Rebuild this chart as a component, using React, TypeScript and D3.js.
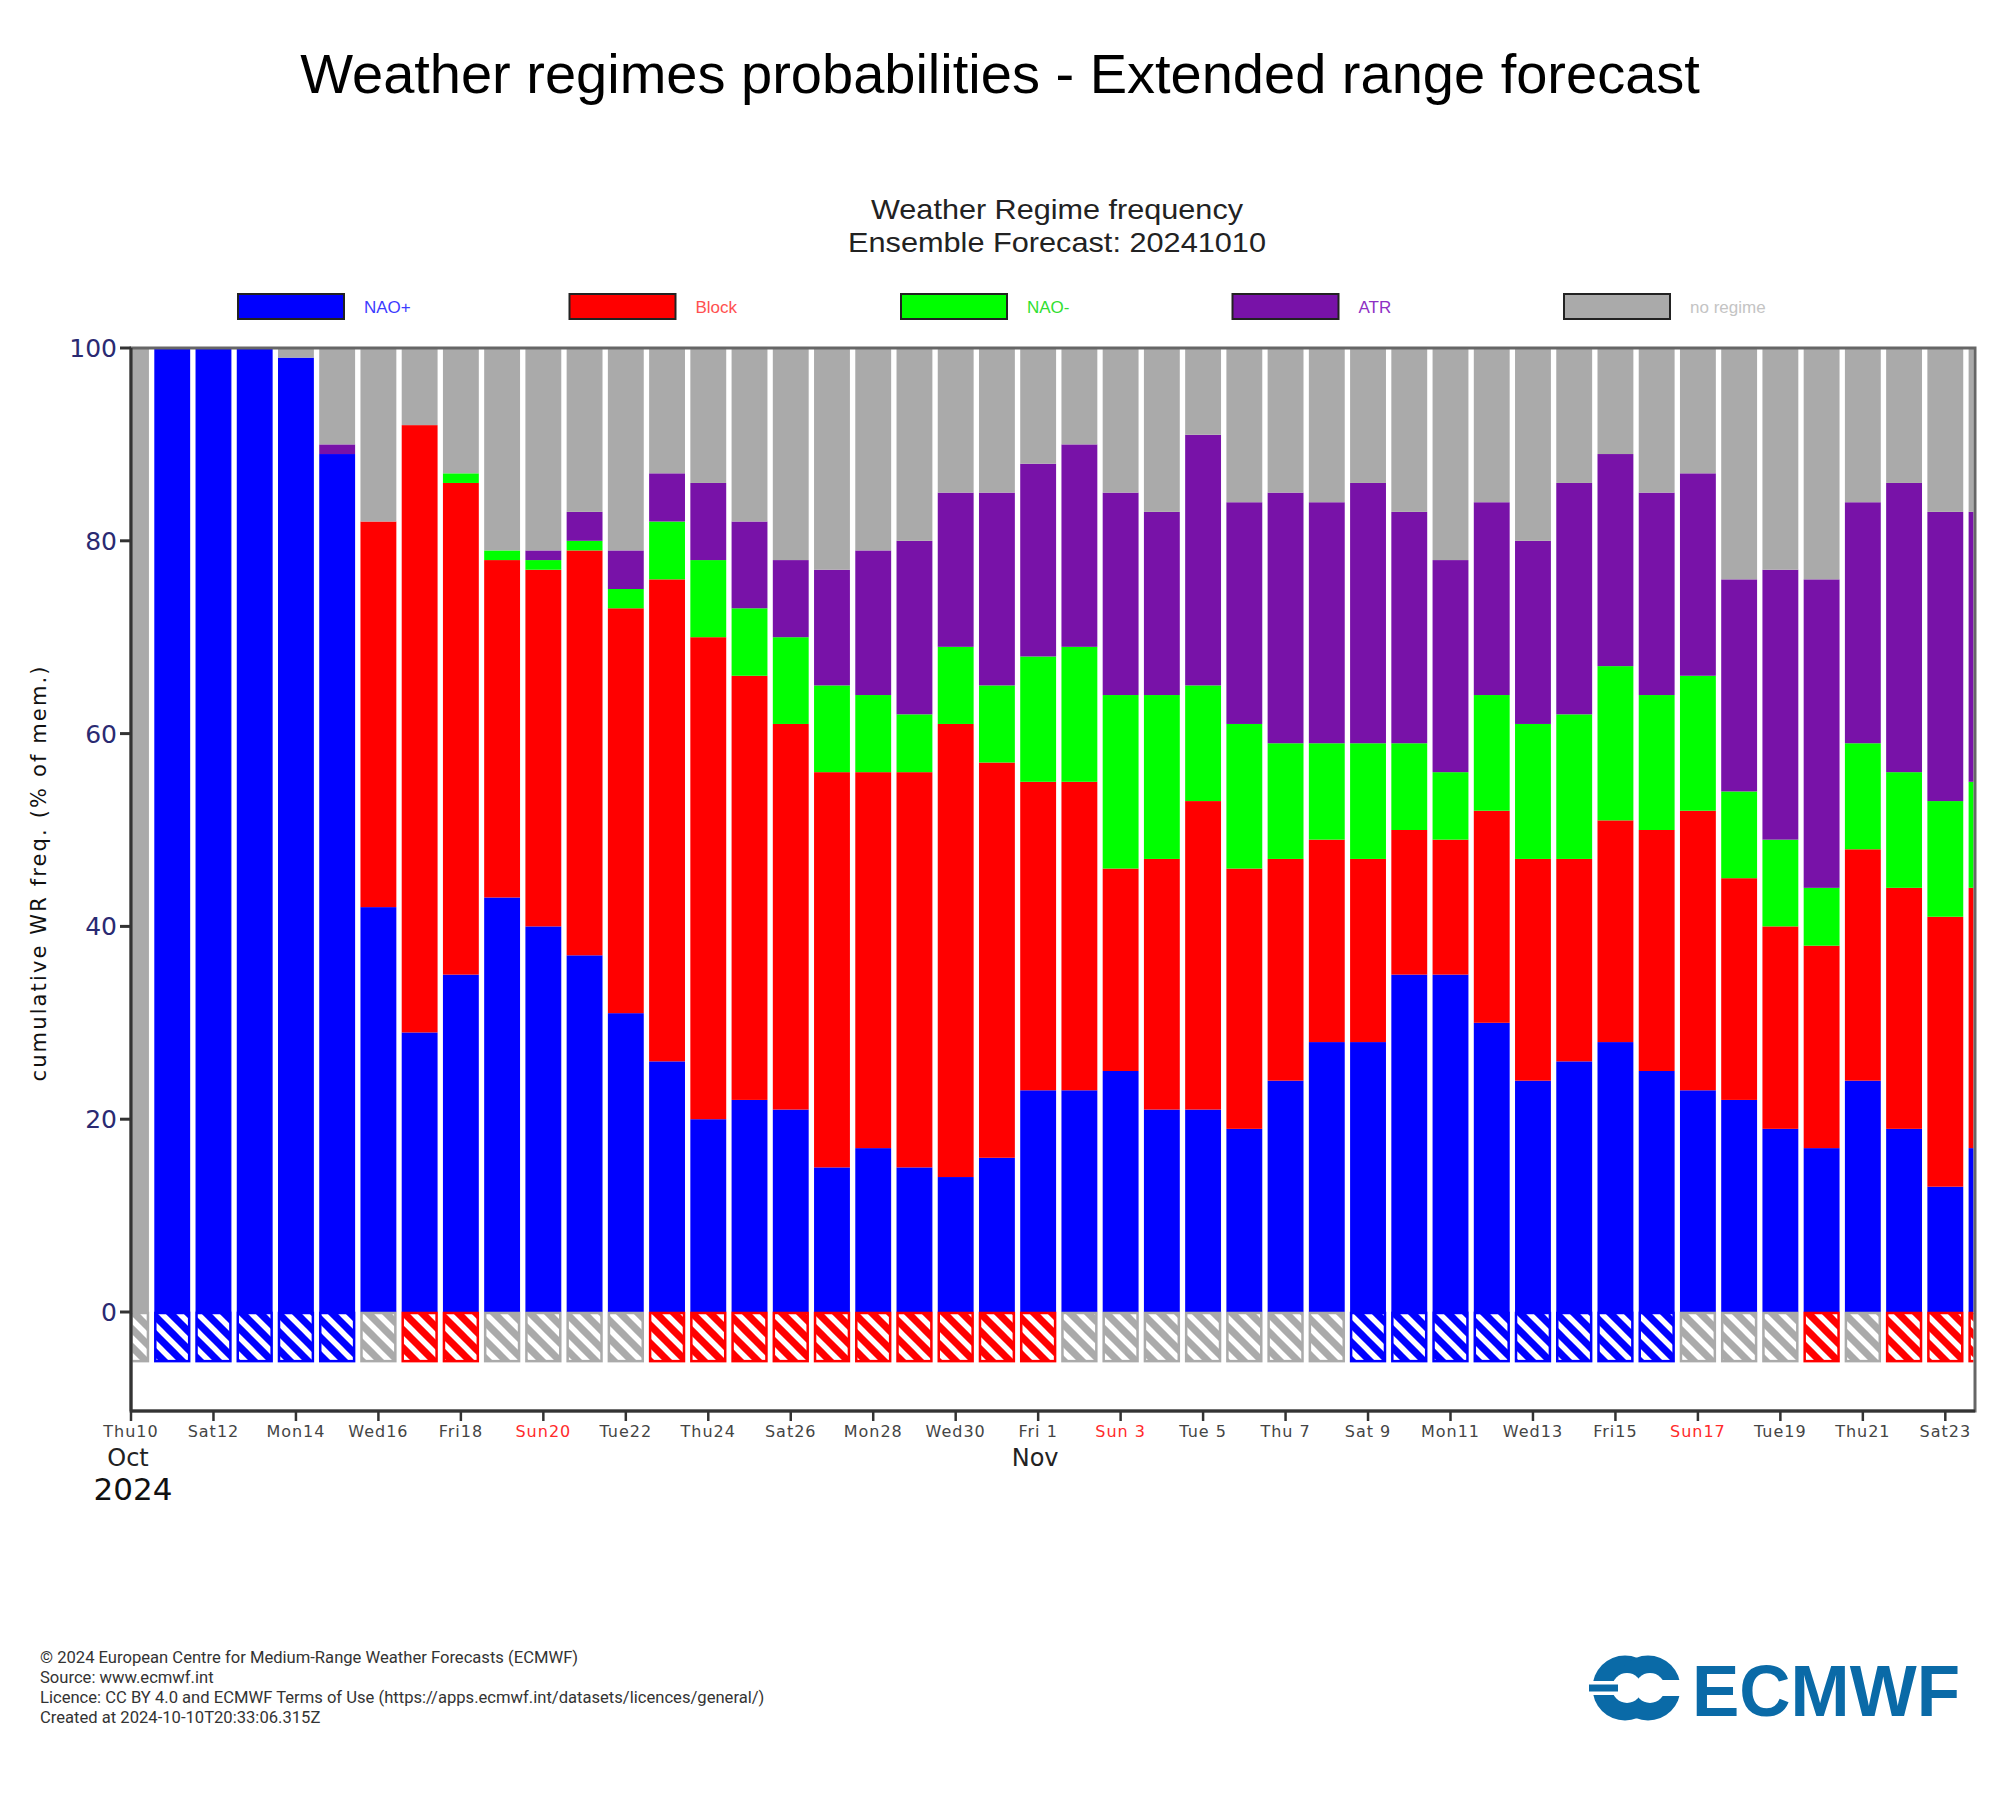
import React from "react";
import * as d3 from "d3";

const regimeKeys = ["naoPlus", "block", "naoMinus", "atr", "noRegime"];
const regimeNames = ["NAO+", "Block", "NAO-", "ATR", "no regime"];
const regimeColors = ["#0000ff", "#ff0000", "#00ff00", "#7812a8", "#aaaaaa"];
const legendTextColors = ["#3c3cff", "#ff5050", "#30e030", "#8e2fc4", "#c4c4c4"];

const naoPlus = [0,100,100,100,99,89,42,29,35,43,40,37,31,26,20,22,21,15,17,15,14,16,23,23,25,21,21,19,24,28,28,35,35,30,24,26,28,25,23,22,19,17,24,19,13,17];
const block = [0,0,0,0,0,0,40,63,51,35,37,42,42,50,50,44,40,41,39,41,47,41,32,32,21,26,32,27,23,21,19,15,14,22,23,21,23,25,29,23,21,21,24,25,28,27];
const naoMinus = [0,0,0,0,0,0,0,0,1,1,1,1,2,6,8,7,9,9,8,6,8,8,13,14,18,17,12,15,12,10,12,9,7,12,14,15,16,14,14,9,9,6,11,12,12,11];
const atr = [0,0,0,0,0,1,0,0,0,0,1,3,4,5,8,9,8,12,15,18,16,20,20,21,21,19,26,23,26,25,27,24,22,20,19,24,22,21,21,22,28,32,25,30,30,28];
const noRegime = [100,0,0,0,1,10,18,8,13,21,21,17,21,13,14,18,22,23,21,20,15,15,12,10,15,17,9,16,15,16,14,17,22,16,20,14,11,15,13,24,23,24,16,14,17,17];

// dominant regime flag shown in the hatched strip under each bar
const hatch = [
  "noRegime","naoPlus","naoPlus","naoPlus","naoPlus","naoPlus","noRegime","block","block",
  "noRegime","noRegime","noRegime","noRegime",
  "block","block","block","block","block","block","block","block","block","block",
  "noRegime","noRegime","noRegime","noRegime","noRegime","noRegime","noRegime",
  "naoPlus","naoPlus","naoPlus","naoPlus","naoPlus","naoPlus","naoPlus","naoPlus",
  "noRegime","noRegime","noRegime","block","noRegime","block","block","block"
];

const xTickLabels = ["Thu10","Sat12","Mon14","Wed16","Fri18","Sun20","Tue22","Thu24","Sat26","Mon28","Wed30","Fri 1","Sun 3","Tue 5","Thu 7","Sat 9","Mon11","Wed13","Fri15","Sun17","Tue19","Thu21","Sat23"];
const yTicks = [0, 20, 40, 60, 80, 100];
const monthLabels = [{ label: "Oct", day: 0 }, { label: "Nov", day: 22 }];

const footerLines = [
  "© 2024 European Centre for Medium-Range Weather Forecasts (ECMWF)",
  "Source: www.ecmwf.int",
  "Licence: CC BY 4.0 and ECMWF Terms of Use (https://apps.ecmwf.int/datasets/licences/general/)",
  "Created at 2024-10-10T20:33:06.315Z",
];

const W = 2000, H = 1800;
const plotL = 131, plotR = 1975, plotT = 348, plotB = 1411, zeroY = 1312;

export default function App() {
  const data = naoPlus.map((_, i) => ({
    i,
    naoPlus: naoPlus[i], block: block[i], naoMinus: naoMinus[i], atr: atr[i], noRegime: noRegime[i],
  }));
  const x = d3.scaleLinear().domain([0, 44.72]).range([plotL, plotR]);
  const y = d3.scaleLinear().domain([0, 100]).range([zeroY, plotT]);
  const step = x(1) - x(0);
  const bw = step * 0.87;
  const stack = d3.stack<any>().keys(regimeKeys)(data);
  const colorOf = (k: string) => regimeColors[regimeKeys.indexOf(k)];
  const hatchTop = y(0), hatchBot = y(-5.2);

  return (
    <svg width={W} height={H} style={{ position: "absolute", left: 0, top: 0, background: "#fff" }}
      fontFamily="'Liberation Sans', Arial, sans-serif">
      <defs>
        <clipPath id="plotclip">
          <rect x={plotL + 1.5} y={plotT} width={plotR - plotL - 3} height={plotB - plotT} />
        </clipPath>
        {regimeKeys.map((k) => (
          <pattern key={k} id={`hatch-${k}`} patternUnits="userSpaceOnUse" width={18} height={18}>
            <rect width={18} height={18} fill={colorOf(k)} />
            <path d="M-4.5,-4.5 L22.5,22.5 M-4.5,13.5 L4.5,22.5 M13.5,-4.5 L22.5,4.5" stroke="#fff" strokeWidth={5.5} />
          </pattern>
        ))}
      </defs>
      <rect width={W} height={H} fill="#fff" />

      {/* Titles */}
      <text x={1000} y={93} textAnchor="middle" fontSize={56} fill="#000">
        Weather regimes probabilities - Extended range forecast
      </text>
      <text x={1057} y={219} textAnchor="middle" fontSize={28} fill="#222" textLength={372} lengthAdjust="spacingAndGlyphs">
        Weather Regime frequency
      </text>
      <text x={1057} y={252} textAnchor="middle" fontSize={28} fill="#222" textLength={418} lengthAdjust="spacingAndGlyphs">
        Ensemble Forecast: 20241010
      </text>

      {/* Legend */}
      {regimeNames.map((n, k) => {
        const lx = 238 + k * 331.5;
        return (
          <g key={n}>
            <rect x={lx} y={294} width={106} height={25} fill={regimeColors[k]} stroke="#222" strokeWidth={2} />
            <text x={lx + 126} y={313} fontSize={17} fill={legendTextColors[k]}>{n}</text>
          </g>
        );
      })}

      {/* Bars */}
      <g clipPath="url(#plotclip)">
        {stack.map((s) => (
          <g key={s.key} fill={colorOf(s.key)}>
            {s.map((d, i) =>
              d[1] - d[0] > 0 ? (
                <rect key={i} x={x(i) - bw / 2} y={y(d[1])} width={bw} height={y(d[0]) - y(d[1])} />
              ) : null
            )}
          </g>
        ))}
        {hatch.map((h, i) => (
          <rect key={i} x={x(i) - bw / 2 + 1} y={hatchTop + 1} width={bw - 2} height={hatchBot - hatchTop - 2}
            fill={`url(#hatch-${h})`} stroke={colorOf(h)} strokeWidth={2.5} />
        ))}
      </g>

      {/* Frame */}
      <rect x={plotL} y={plotT} width={plotR - plotL} height={plotB - plotT} fill="none" stroke="#666" strokeWidth={3} />
      <line x1={plotL} x2={plotL} y1={plotT} y2={plotB} stroke="#333" strokeWidth={3} />
      <line x1={plotL} x2={plotR} y1={plotB} y2={plotB} stroke="#333" strokeWidth={3} />

      {/* Y axis */}
      {yTicks.map((t) => (
        <g key={t}>
          <line x1={plotL - 11} x2={plotL} y1={y(t)} y2={y(t)} stroke="#333" strokeWidth={3} />
          <text x={plotL - 14} y={y(t) + 9} textAnchor="end" fontSize={25} fill="#2a2a72"
            fontFamily="'DejaVu Sans', sans-serif">{t}</text>
        </g>
      ))}
      <text transform={`translate(46, 874) rotate(-90)`} textAnchor="middle" fontSize={21}
        fill="#111" fontFamily="'DejaVu Sans', sans-serif" textLength={415} lengthAdjust="spacing">
        cumulative WR freq. (% of mem.)
      </text>

      {/* X axis */}
      {xTickLabels.map((lab, k) => {
        const xi = x(k * 2);
        const isSun = lab.startsWith("Sun");
        return (
          <g key={lab}>
            <line x1={xi} x2={xi} y1={plotB} y2={plotB + 10} stroke="#333" strokeWidth={2.5} />
            <text x={xi} y={1437} textAnchor="middle" fontSize={16} letterSpacing={1}
              fill={isSun ? "#ff2a2a" : "#444"} fontFamily="'DejaVu Sans', sans-serif">{lab}</text>
          </g>
        );
      })}
      {monthLabels.map((m) => (
        <text key={m.label} x={x(m.day) - 3} y={1466} textAnchor="middle" fontSize={24} fill="#222"
          fontFamily="'DejaVu Sans', sans-serif">{m.label}</text>
      ))}
      <text x={x(0) + 2} y={1500} textAnchor="middle" fontSize={31} fill="#111"
        fontFamily="'DejaVu Sans', sans-serif">2024</text>

      {/* Footer */}
      {footerLines.map((l, k) => (
        <text key={k} x={40} y={1663 + k * 20} fontSize={16.6} fill="#333" fontFamily="Roboto, 'Liberation Sans', sans-serif">{l}</text>
      ))}

      {/* ECMWF logo */}
      <g>
        <circle cx={1625} cy={1688} r={32.5} fill="#0a6aa7" />
        <circle cx={1648} cy={1688} r={32.5} fill="#0a6aa7" />
        <circle cx={1627} cy={1688} r={15} fill="#fff" />
        <circle cx={1650} cy={1688} r={15} fill="#fff" />
        <rect x={1660} y={1680} width={24} height={16} fill="#fff" />
        <rect x={1589} y={1681} width={39} height={14} fill="#fff" />
        <rect x={1589} y={1684.5} width={29} height={7} fill="#0a6aa7" />
        <text x={1692} y={1716} fontSize={72} fontWeight="bold" fill="#0a6aa7" textLength={268}
          lengthAdjust="spacingAndGlyphs" fontFamily="'Liberation Sans', Arial, sans-serif">ECMWF</text>
      </g>
    </svg>
  );
}
